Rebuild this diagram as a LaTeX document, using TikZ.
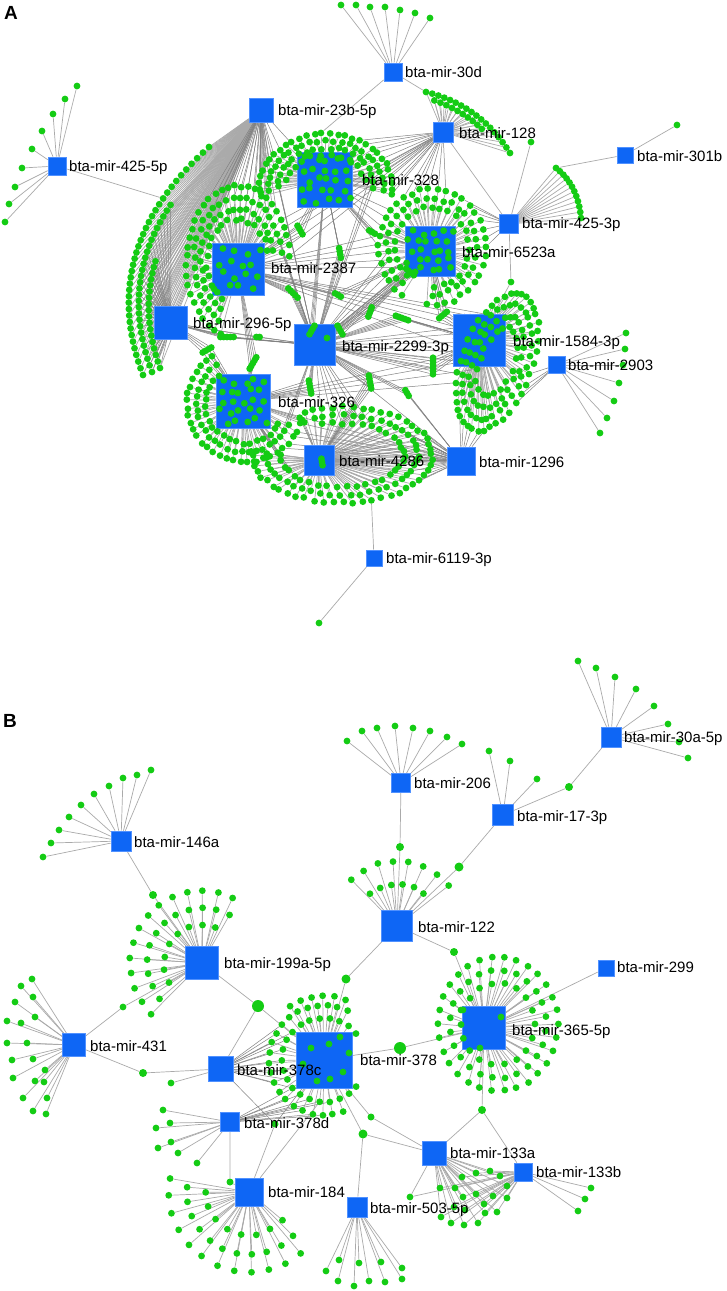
\documentclass[tikz,border=0pt]{standalone}
\usepackage{fontspec}
\setmainfont{Liberation Sans}
\pgfdeclarelayer{paper}
\pgfdeclarelayer{bg}
\pgfdeclarelayer{sq}
\pgfdeclarelayer{fg}
\pgfsetlayers{paper,bg,sq,main,fg}
\definecolor{hubblue}{RGB}{14,102,245}
\definecolor{hubline}{RGB}{80,145,255}
\definecolor{dotgreen}{RGB}{20,204,20}
\definecolor{edgegray}{RGB}{170,170,170}
\definecolor{xgray}{RGB}{130,130,130}
\tikzset{
  hub/.style={rectangle,fill=hubblue,draw=hubline,line width=0.6pt,inner sep=0pt},
  dot/.style={circle,fill=dotgreen,inner sep=0pt,minimum size=6.8pt},
  bigdot/.style={circle,fill=dotgreen,inner sep=0pt,minimum size=#1},
  edge/.style={draw=edgegray,line width=0.7pt},
  xedge/.style={draw=xgray,line width=0.5pt},
  lbl/.style={font=\fontsize{15}{15}\selectfont,anchor=base west,inner sep=0pt,text=black},
  panel/.style={font=\fontsize{19}{19}\selectfont\bfseries,anchor=base west,inner sep=0pt}
}
\gdef\alledges{}
\gdef\alllabels{}
\newcommand\addedge[2]{\xdef\alledges{\unexpanded\expandafter{\alledges}\noexpand\draw[edge] (#1) -- (#2);}}
\newcommand\addxedge[2]{\xdef\alledges{\unexpanded\expandafter{\alledges}\noexpand\draw[xedge] (#1) -- (#2);}}
\newcommand\hubnode[7]{%
  \node[hub,minimum size=#4pt] (#1) at (#2,#3) {};%
  \xdef\alllabels{\unexpanded\expandafter{\alllabels}\noexpand\node[lbl] (#1-t) at (#5,#6+5.5) {#7};}}
\newcommand\ringdots[9]{%
  \foreach \k in {1,...,#9}{%
    \pgfmathsetmacro\ang{#7+(#8-(#7))*(\k-1)/max(#9-1,1)}%
    \pgfmathsetmacro\ux{#5*cos(\ang)+\jit*(rnd-0.5)}%
    \pgfmathsetmacro\uy{#6*sin(\ang)+\jit*(rnd-0.5)}%
    \pgfmathsetmacro\px{#3+\ux*cos(\ringrot)-\uy*sin(\ringrot)}%
    \pgfmathsetmacro\py{#4+\ux*sin(\ringrot)+\uy*cos(\ringrot)}%
    \node[dot] (#1-\k) at (\px,\py) {};%
    \addedge{#2}{#1-\k}%
  }}
\newcommand\bezdots[9]{%
  \foreach \k in {1,...,#9}{%
    \pgfmathsetmacro\bzt{\bzA+(\bzB-\bzA)*(\k-1)/max(#9-1,1)}%
    \pgfmathsetmacro\px{(1-\bzt)*(1-\bzt)*#3+2*\bzt*(1-\bzt)*#5+\bzt*\bzt*#7}%
    \pgfmathsetmacro\py{(1-\bzt)*(1-\bzt)*#4+2*\bzt*(1-\bzt)*#6+\bzt*\bzt*#8}%
    \node[dot] (#1-\k) at (\px,\py) {};%
    \addedge{#2}{#1-\k}%
  }}
\newcommand\leafdots[3]{%
  \foreach \x/\y [count=\k] in {#3}{%
    \node[dot] (#1-\k) at (\x,\y) {};%
    \addedge{#2}{#1-\k}}}
\newcommand\leafdotsii[4]{%
  \foreach \x/\y [count=\k] in {#4}{%
    \node[dot] (#1-\k) at (\x,\y) {};%
    \addedge{#2}{#1-\k}\addedge{#3}{#1-\k}}}
\newcommand\blobdots[7]{%
  \foreach \k in {1,...,#5}{%
    \pgfmathsetmacro\px{#2+3.3*(\k-(#5+1)/2)*cos(#4)}%
    \pgfmathsetmacro\py{#3+3.3*(\k-(#5+1)/2)*sin(#4)}%
    \node[dot] (#1-\k) at (\px,\py) {};%
    \addxedge{#6}{#1-\k}\addxedge{#7}{#1-\k}}}
\newcommand\insidedots[5]{%
  \pgfmathsetmacro\insp{2*#4/#5}%
  \foreach \i in {1,...,#5}{\foreach \j in {1,...,#5}{%
    \pgfmathsetmacro\px{#2-#4+\insp*(\i-0.5)+(mod(\j,2)-0.5)*\insp*0.5+(rnd-0.5)*\insp*0.6}%
    \pgfmathsetmacro\py{#3-#4+\insp*(\j-0.5)+(rnd-0.5)*\insp*0.6}%
    \node[dot] (#1-\i-\j) at (\px,\py) {};}}}
\newcommand\xedges[3]{\foreach \k in {#3}{\draw[xedge] (#1) -- (#2-\k);}}
\begin{document}
\begin{tikzpicture}[x=1pt,y=-1pt]
\useasboundingbox (0,0) rectangle (726,1291);
\begin{pgfonlayer}{paper}\fill[white] (0,0) rectangle (726,1291);\end{pgfonlayer}
\pgfmathsetseed{11}
\def\ringrot{0}\def\bzA{0}\def\bzB{1}\def\jit{2.6}

\node[panel] (pA) at (4,19.5) {A};
\node[panel] (pB) at (3,727) {B};

\begin{pgfonlayer}{sq}
% ---------------- Panel A hubs
\hubnode{a30d}{393}{72}{18}{405}{72}{bta-mir-30d}
\hubnode{a23b}{261}{110}{24}{278}{110}{bta-mir-23b-5p}
\hubnode{a128}{443}{132}{20}{459}{133}{bta-mir-128}
\hubnode{a301b}{625}{155}{16}{637}{156}{bta-mir-301b}
\hubnode{a4255}{57}{166}{18}{69}{166}{bta-mir-425-5p}
\hubnode{a328}{325}{180}{55}{362}{180}{bta-mir-328}
\hubnode{a4253}{509}{224}{19}{522}{223}{bta-mir-425-3p}
\hubnode{a6523}{430}{251}{50}{462}{252}{bta-mir-6523a}
\hubnode{a2387}{238}{269}{52}{271}{268}{bta-mir-2387}
\hubnode{a296}{171}{323}{33}{193}{323}{bta-mir-296-5p}
\hubnode{a2299}{315}{345}{41}{342}{346}{bta-mir-2299-3p}
\hubnode{a1584}{479}{340}{52}{513}{341}{bta-mir-1584-3p}
\hubnode{a2903}{557}{365}{17}{568}{365}{bta-mir-2903}
\hubnode{a326}{243}{401}{54}{278}{402}{bta-mir-326}
\hubnode{a4286}{319}{460}{30}{339}{461}{bta-mir-4286}
\hubnode{a1296}{461}{461}{28}{479}{462}{bta-mir-1296}
\hubnode{a6119}{374}{558}{16}{386}{558}{bta-mir-6119-3p}
% ---------------- Panel B hubs
\hubnode{b30a}{611}{737}{20}{624}{737}{bta-mir-30a-5p}
\hubnode{b206}{401}{783}{19}{414}{783}{bta-mir-206}
\hubnode{b173}{503}{815}{21}{517}{816}{bta-mir-17-3p}
\hubnode{b122}{397}{926}{31}{418}{927}{bta-mir-122}
\hubnode{b146}{121}{841}{20}{134}{842}{bta-mir-146a}
\hubnode{b199}{202}{963}{33}{224}{963}{bta-mir-199a-5p}
\hubnode{b299}{606}{968}{16}{617}{967}{bta-mir-299}
\hubnode{b365}{484}{1028}{43}{512}{1030}{bta-mir-365-5p}
\hubnode{b378}{324}{1060}{56}{360}{1060}{bta-mir-378}
\hubnode{b378c}{221}{1069}{25}{237}{1070}{bta-mir-378c}
\hubnode{b431}{74}{1045}{23}{90}{1046}{bta-mir-431}
\hubnode{b378d}{230}{1122}{19}{244}{1123}{bta-mir-378d}
\hubnode{b184}{249}{1192}{28}{268}{1192}{bta-mir-184}
\hubnode{b503}{357}{1207}{20}{370}{1208}{bta-mir-503-5p}
\hubnode{b133a}{434}{1153}{24}{450}{1153}{bta-mir-133a}
\hubnode{b133b}{523}{1172}{18}{536}{1172}{bta-mir-133b}
\end{pgfonlayer}

% ---------------- Panel A fans
\ringdots{r328a}{a328}{326}{186}{66}{52}{170}{370}{30}
\ringdots{r328b}{a328}{326}{186}{57}{45}{174}{366}{25}
\ringdots{r328c}{a328}{326}{186}{48}{38}{178}{362}{20}
\ringdots{r328d}{a328}{326}{186}{40}{31}{190}{350}{12}
\ringdots{r2387a}{a2387}{238}{262}{52}{76}{110}{355}{34}
\ringdots{r2387b}{a2387}{238}{262}{44}{64}{114}{351}{28}
\ringdots{r2387c}{a2387}{238}{262}{37}{53}{118}{347}{23}
\ringdots{r2387d}{a2387}{238}{262}{31}{43}{122}{343}{18}
\ringdots{r6523a}{a6523}{432}{247}{54}{58}{125}{455}{36}
\ringdots{r6523b}{a6523}{432}{247}{45}{48}{130}{450}{30}
\ringdots{r6523c}{a6523}{432}{247}{37}{40}{135}{445}{24}
\def\ringrot{20}
\ringdots{r1584a}{a1584}{497}{362}{35}{72}{0}{351}{40}
\ringdots{r1584b}{a1584}{497}{362}{29}{60}{5}{354}{33}
\ringdots{r1584c}{a1584}{497}{362}{23}{48}{0}{346}{26}
\ringdots{r1584d}{a1584}{497}{362}{17}{36}{5}{346}{19}
\def\ringrot{0}
\ringdots{r326a}{a326}{245}{404}{58}{58}{20}{235}{30}
\ringdots{r326b}{a326}{245}{404}{48}{48}{25}{232}{25}
\ringdots{r326c}{a326}{245}{404}{39}{39}{30}{228}{20}
\ringdots{r4286a}{a4286}{342}{455}{90}{48}{185}{-115}{48}
\ringdots{r4286b}{a4286}{342}{455}{76}{40}{182}{-112}{40}
\ringdots{r4286c}{a4286}{342}{455}{62}{32}{178}{-108}{32}
\bezdots{arcL1}{a23b}{209}{147}{95}{250}{143}{375}{38}
\def\bzA{0.25}
\bezdots{arcL2}{a23b}{215}{155}{107}{252}{152}{372}{28}
\def\bzA{0.5}
\bezdots{arcL3}{a23b}{222}{165}{120}{256}{160}{368}{18}
\def\bzA{0}
\bezdots{arcA}{a128}{426}{92}{480}{105}{510}{153}{18}
\def\bzA{0.05}\def\bzB{0.7}
\bezdots{arcB}{a128}{430}{99}{474}{113}{498}{148}{10}
\def\bzA{0}\def\bzB{1}
\bezdots{arcC}{a4253}{556}{168}{578}{185}{581}{218}{12}
\leafdots{l30d}{a30d}{341/5,356/5,370/7,385/7,400/10,415/13,430/18}
\leafdots{l4255}{a4255}{77/86,65/99,53/114,42/131,32/149,22/168,15/187,9/204,5/222}
\leafdots{l2903}{a2903}{626/333,625/349,623/365,619/383,614/401,607/418,600/433}
\leafdots{l301b}{a301b}{677/125}
\leafdots{l6119}{a6119}{319/623}
\node[dot] (s1) at (531,142) {};
\node[dot] (s2) at (511,282) {};
\insidedots{i328}{325}{180}{26}{5}
\insidedots{i6523}{430}{251}{23}{5}
\insidedots{i2387}{238}{269}{24}{4}
\insidedots{i326}{243}{401}{25}{5}
\blobdots{b1}{227}{337}{0}{5}{a296}{a2299}
\blobdots{b2}{258}{337}{0}{2}{a296}{a2299}
\blobdots{b3}{207}{350}{-30}{4}{a296}{a326}
\blobdots{b4}{253}{363}{-60}{5}{a326}{a2387}
\blobdots{b5}{293}{293}{45}{5}{a2387}{a2299}
\blobdots{b6}{312}{330}{-60}{4}{a2299}{a328}
\blobdots{b7}{340}{330}{60}{4}{a2299}{a6523}
\blobdots{b8}{370}{312}{-70}{4}{a2299}{a6523}
\blobdots{b9}{402}{318}{20}{5}{a2299}{a1584}
\blobdots{b10}{443}{315}{-40}{4}{a6523}{a1584}
\blobdots{b11}{433}{366}{90}{6}{a2299}{a1584}
\blobdots{b12}{370}{382}{80}{5}{a2299}{a4286}
\blobdots{b13}{310}{387}{80}{5}{a2299}{a326}
\blobdots{b14}{302}{420}{45}{3}{a326}{a4286}
\blobdots{b15}{407}{393}{60}{3}{a1296}{a2299}
\blobdots{b16}{300}{230}{60}{4}{a2387}{a328}
\blobdots{b17}{340}{253}{80}{4}{a328}{a2299}
\blobdots{b18}{372}{232}{30}{3}{a328}{a6523}
\blobdots{b19}{338}{295}{30}{3}{a2387}{a6523}
\blobdots{b20}{410}{272}{40}{4}{a6523}{a2299}
\blobdots{b21}{322}{462}{80}{3}{a4286}{a1296}
\node[dot] (d2299a) at (327,338) {};

% ---------------- Panel B dots
\def\jit{1.2}
\ringdots{f199a}{b199}{202}{963}{72}{72}{135}{295}{14}
\ringdots{f199b}{b199}{202}{963}{55}{55}{140}{300}{12}
\ringdots{f199c}{b199}{202}{963}{38}{38}{150}{290}{8}
\ringdots{f122a}{b122}{397}{926}{65}{65}{225}{322}{8}
\ringdots{f122b}{b122}{397}{926}{42}{42}{230}{310}{6}
\ringdots{f365a}{b365}{498}{1024}{60}{67}{0}{348}{30}
\ringdots{f365b}{b365}{498}{1024}{48}{54}{7}{352}{24}
\ringdots{f365c}{b365}{498}{1024}{37}{41}{0}{340}{18}
\ringdots{f378a}{b378}{324}{1060}{42}{42}{40}{320}{21}
\ringdots{f378b}{b378}{324}{1060}{55}{55}{70}{295}{22}
\ringdots{f378c}{b378}{324}{1060}{64}{64}{238}{290}{6}
\ringdots{f184a}{b184}{249}{1192}{80}{80}{50}{190}{12}
\ringdots{f184b}{b184}{249}{1192}{62}{62}{45}{185}{11}
\ringdots{f184c}{b184}{249}{1192}{43}{43}{40}{180}{8}
\leafdots{l146}{b146}{43/857,51/843,59/830,69/817,81/805,94/794,109/786,123/778,137/775,151/770}
\leafdots{l206}{b206}{347/741,362/731,377/728,395/726,413/728,430/731,447/737,462/744}
\leafdots{l173}{b173}{489/751,510/761,537/779}
\leafdots{l30a}{b30a}{578/661,596/668,615/677,636/689,654/706,668/724,679/742,688/758}
\leafdots{l431}{b431}{32/979,21/986,33/997,15/1002,35/1017,21/1023,7/1021,7/1043,27/1043,12/1060,33/1059,13/1078,45/1070,35/1081,44/1082,23/1098,47/1098,33/1111,46/1114}
\leafdots{l378d}{b378d}{163/1110,170/1123,156/1128,171/1142,158/1148,178/1153,197/1163}
\leafdots{l503}{b503}{326/1271,339/1260,338/1281,354/1286,359/1263,369/1281,381/1262,385/1282,402/1268,402/1279}
\leafdotsii{l133}{b133a}{b133b}{410/1197,440/1188,455/1188,462/1177,476/1173,490/1171,500/1176,463/1197,476/1194,493/1196,507/1186,507/1198,441/1217,454/1207,465/1210,484/1204,497/1212,451/1223,464/1225,478/1223,485/1213}
\leafdots{l133b}{b133b}{591/1188,585/1199,578/1211}
\foreach \x/\y [count=\k] in {311/1048,329/1044,340/1037,349/1053,343/1072,317/1081,330/1079,303/1064}{\node[dot] (in378-\k) at (\x,\y) {};}
\foreach \x/\y [count=\k] in {461/1010,501/1017,480/1048}{\node[dot] (in365-\k) at (\x,\y) {};}
\node[bigdot=8pt] (c1) at (153,895) {};
\node[bigdot=8pt] (c2) at (400,847) {};
\node[bigdot=8pt] (c3) at (569,787) {};
\node[bigdot=9pt] (c4) at (459,867) {};
\node[bigdot=8pt] (c5) at (454,952) {};
\node[bigdot=9pt] (c6) at (346,979) {};
\node[bigdot=12pt] (c7) at (258,1006) {};
\node[bigdot=6.8pt] (c8) at (123,1007) {};
\node[bigdot=8pt] (c9) at (143,1073) {};
\node[bigdot=12pt] (c10) at (400,1048) {};
\node[bigdot=8pt] (c11) at (482,1110) {};
\node[bigdot=9pt] (c12) at (363,1134) {};
\node[bigdot=7pt] (c13) at (371,1117) {};
\node[bigdot=7pt] (c14) at (275,1124) {};
\node[bigdot=7pt] (c15) at (230,1182) {};
\node[bigdot=6.8pt] (c16) at (171,1083) {};

% ---------------- all connectors, underneath
\begin{pgfonlayer}{bg}
\alledges
\xedges{a23b}{r328a}{1,...,9}
\xedges{a23b}{r2387a}{18,...,29}
\xedges{a23b}{r2387b}{15,...,24}
\draw[xedge] (a23b) -- (a296);
\draw[xedge] (a23b) -- (a2299);
\draw[xedge] (a23b) -- (a328);
\draw[edge] (a4255) -- (arcL1-10);
\draw[edge] (a30d) -- (arcA-1);
\draw[edge] (a30d) -- (r328a-15);
\xedges{a128}{r328a}{20,...,30}
\xedges{a128}{r6523a}{13,...,18}
\xedges{a128}{r2387a}{30,...,34}
\draw[edge] (a128) -- (a4253);
\xedges{a4253}{r6523a}{20,...,26}
\draw[edge] (a4253) -- (s1);
\draw[edge] (a4253) -- (s2);
\draw[edge] (a1584) -- (s2);
\draw[edge] (a301b) -- (arcC-1);
\xedges{a2903}{r1584a}{1,...,4}
\draw[edge] (a6119) -- (r4286a-19);
\xedges{a1296}{r4286a}{24,...,35}
\xedges{a1296}{r4286b}{22,...,32}
\xedges{a1296}{r326a}{1,...,5}
\xedges{a1296}{r1584a}{9,...,14}
\draw[xedge] (a1296) -- (a2299);
\draw[xedge] (a1296) -- (a326);
\draw[xedge] (a1296) -- (a4286);
\xedges{a2299}{r6523b}{1,...,5}
\xedges{a2299}{r2387b}{25,...,28}
\xedges{a2299}{r1584b}{15,...,20}
\xedges{a2299}{r326b}{1,2,3}
\xedges{a2299}{r4286c}{27,...,32}
\xedges{a2299}{r328c}{1,2,18,19,20}
\xedges{a2387}{r6523c}{2,...,6}
\xedges{a2387}{r1584c}{14,...,19}
\xedges{a326}{r1584d}{8,...,11}
\xedges{a326}{r4286c}{1,...,5}
\xedges{a328}{r6523a}{7,...,11}
\xedges{a296}{arcL2}{1,...,28}
\xedges{a296}{arcL3}{1,...,18}
\draw[edge] (b146) -- (c1) -- (b199);
\draw[edge] (b206) -- (c2) -- (b122);
\draw[edge] (b173) -- (c3) -- (b30a);
\draw[edge] (b173) -- (c4) -- (b122);
\draw[edge] (b122) -- (c5) -- (b365);
\draw[edge] (b122) -- (c6) -- (b378);
\draw[edge] (b199) -- (c7) -- (b378);
\draw[edge] (c7) -- (b378c);
\draw[edge] (b431) -- (c8) -- (b199);
\draw[edge] (b431) -- (c9) -- (b378c);
\draw[edge] (b378) -- (c10) -- (b365);
\draw[edge] (b365) -- (c11) -- (b133a);
\draw[edge] (c11) -- (b133b);
\draw[edge] (b378) -- (c12) -- (b503);
\draw[edge] (c12) -- (b133a);
\draw[edge] (b378) -- (c13) -- (b133a);
\draw[xedge] (b378c) -- (c14) -- (b378);
\draw[edge] (b184) -- (c14);
\draw[edge] (b378d) -- (c15) -- (b184);
\draw[edge] (b299) -- (b365);
\draw[edge] (b378c) -- (c16);
\xedges{b378c}{f378a}{8,...,14}
\xedges{b378c}{f378b}{9,...,15}
\xedges{b378d}{f378a}{4,...,8}
\xedges{b378d}{f378b}{3,...,7}
\draw[edge] (b184) -- (f378a-5);
\end{pgfonlayer}

\begin{pgfonlayer}{fg}
\alllabels
\end{pgfonlayer}
\end{tikzpicture}
\end{document}
